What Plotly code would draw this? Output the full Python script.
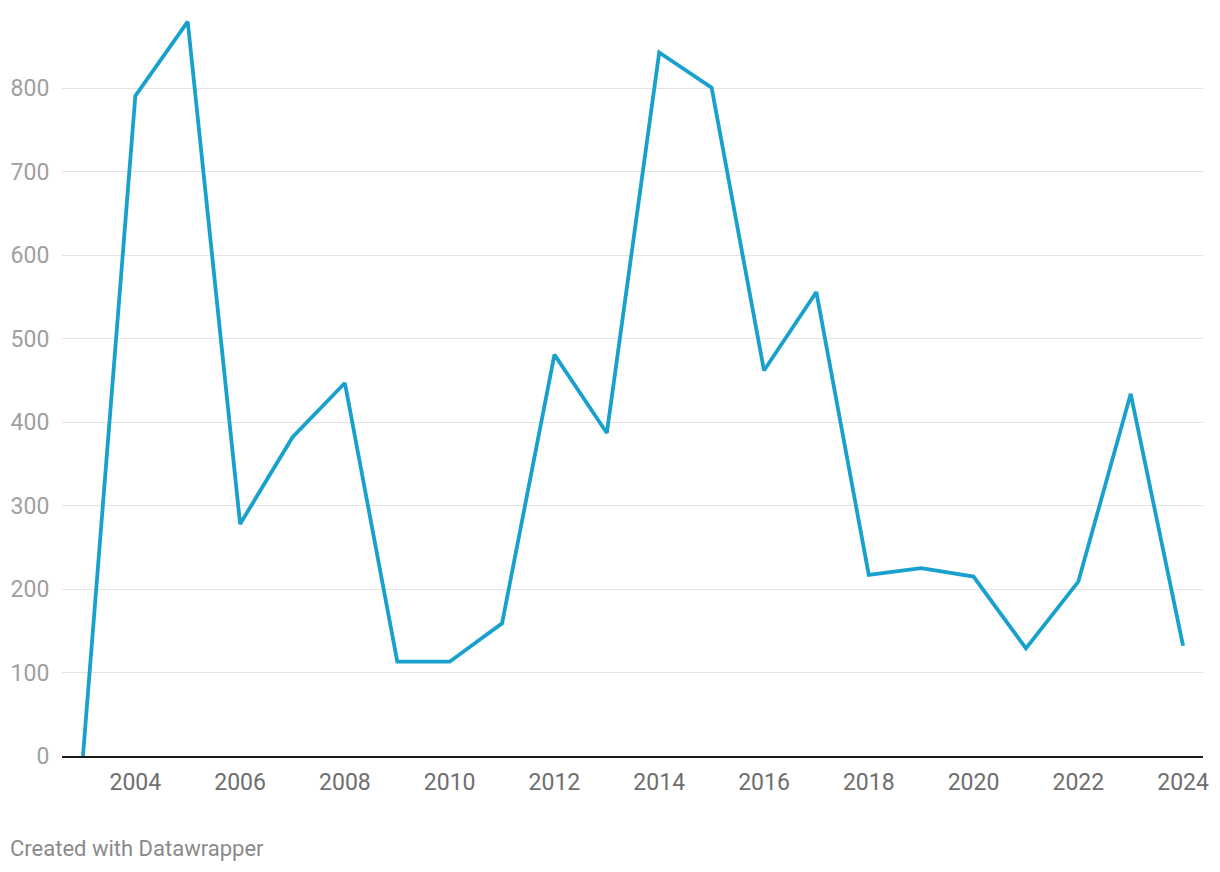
import plotly.graph_objects as go

years = list(range(2003, 2025))
values = [0, 791, 880, 278, 382, 447, 113, 113, 159, 481, 387, 843, 801, 462, 556, 217, 225, 215, 129, 209, 434, 132]
x_ticks = [2004, 2006, 2008, 2010, 2012, 2014, 2016, 2018, 2020, 2022, 2024]
y_ticks = [0, 100, 200, 300, 400, 500, 600, 700, 800]

W, H = 1212, 864
L, R, T, B = 54, 17, 12, 116
pw, ph = W - L - R, H - T - B

fig = go.Figure()
fig.add_trace(go.Scatter(x=years, y=values, mode="lines",
                         line=dict(color="#18a1cd", width=3.8), hoverinfo="x+y"))

fig.update_layout(
    width=W, height=H,
    margin=dict(l=L, r=R, t=T, b=B),
    paper_bgcolor="white", plot_bgcolor="white",
    font=dict(family="Roboto, sans-serif"),
    showlegend=False,
    xaxis=dict(range=[2002.6, 2024.38], tickvals=x_ticks, ticktext=[str(t) for t in x_ticks],
               showgrid=False, zeroline=False, showline=True, linecolor="#1a1a1a", linewidth=2,
               ticks="outside", ticklen=4, tickcolor="rgba(0,0,0,0)", automargin=False,
               tickfont=dict(size=23, color="#6e6e6e")),
    yaxis=dict(range=[0, 882], tickvals=y_ticks, showgrid=True, gridcolor="#e3e3e3", gridwidth=1,
               zeroline=False, showline=False, ticks="outside", ticklen=7, tickcolor="rgba(0,0,0,0)",
               automargin=False, tickfont=dict(size=23, color="#a0a0a0")),
)
fig.add_annotation(text="Created with Datawrapper", xref="paper", yref="paper",
                   x=(0 - L) / pw, y=-(840 - (H - B)) / ph, xanchor="left", yanchor="middle",
                   showarrow=False, font=dict(size=22, color="#8a8a8a", family="Roboto, sans-serif"))

fig.write_html("out.html")
